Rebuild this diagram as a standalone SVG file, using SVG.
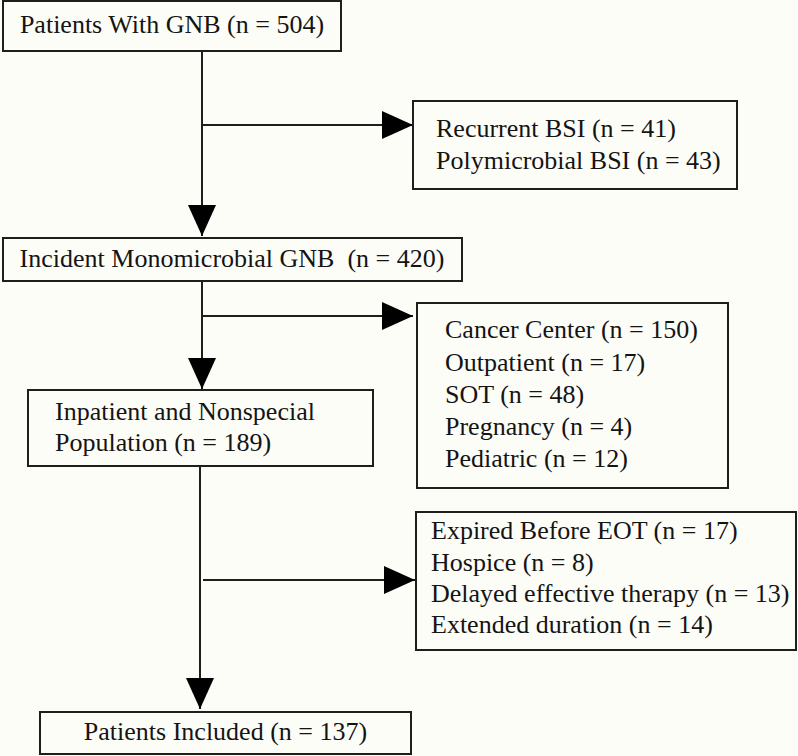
<svg xmlns="http://www.w3.org/2000/svg" width="798" height="756" viewBox="0 0 798 756">
<style>
.bg{fill:#fdfdf8}
.box{fill:#fdfdf8;stroke:#1e1e1e;stroke-width:2}
.t{font-family:'Liberation Serif',Tinos,'Times New Roman','Nimbus Roman','DejaVu Serif',serif;font-size:26px;fill:#141414;white-space:pre}
.c{text-anchor:middle}
.ln{fill:none;stroke:#1e1e1e;stroke-width:2;marker-end:url(#arr)}
</style>
<defs>
<marker id="arr" viewBox="0 0 31 28" markerWidth="31" markerHeight="28" refX="31" refY="14" orient="auto" markerUnits="userSpaceOnUse">
<path d="M0,0 L31,14 L0,28 Z" fill="#000"/>
</marker>
</defs>
<rect class="bg" x="0" y="0" width="798" height="756"/>
<g id="connectors">
<path class="ln" d="M202,51 V236"/>
<path class="ln" d="M202,125 H413"/>
<path class="ln" d="M202,281 V389"/>
<path class="ln" d="M202,316 H413"/>
<path class="ln" d="M200,466 V709"/>
<path class="ln" d="M203,580 H415"/>
</g>
<g id="n1">
<rect class="box" x="3" y="1" width="338" height="50"/>
<text class="t c" x="172" y="33" font-family="Liberation Serif, serif">Patients With GNB (n = 504)</text>
</g>
<g id="n2">
<rect class="box" x="413" y="101" width="324" height="88"/>
<text class="t" x="436" y="137">Recurrent BSI (n = 41)</text>
<text class="t" x="436" y="169">Polymicrobial BSI (n = 43)</text>
</g>
<g id="n3">
<rect class="box" x="3" y="238" width="459" height="43"/>
<text class="t c" x="232" y="267">Incident Monomicrobial GNB  (n = 420)</text>
</g>
<g id="n4">
<rect class="box" x="417" y="303" width="311" height="185"/>
<text class="t" x="445" y="338">Cancer Center (n = 150)</text>
<text class="t" x="445" y="371">Outpatient (n = 17)</text>
<text class="t" x="445" y="403">SOT (n = 48)</text>
<text class="t" x="445" y="435">Pregnancy (n = 4)</text>
<text class="t" x="445" y="467">Pediatric (n = 12)</text>
</g>
<g id="n5">
<rect class="box" x="28" y="390" width="345" height="76"/>
<text class="t" x="55" y="420">Inpatient and Nonspecial</text>
<text class="t" x="55" y="451">Population (n = 189)</text>
</g>
<g id="n6">
<rect class="box" x="416" y="512" width="380" height="138"/>
<text class="t" x="431" y="539">Expired Before EOT (n = 17)</text>
<text class="t" x="431" y="571">Hospice (n = 8)</text>
<text class="t" x="431" y="602">Delayed effective therapy (n = 13)</text>
<text class="t" x="431" y="633">Extended duration (n = 14)</text>
</g>
<g id="n7">
<rect class="box" x="40" y="712" width="371" height="42"/>
<text class="t c" x="225.5" y="740">Patients Included (n = 137)</text>
</g>
</svg>
